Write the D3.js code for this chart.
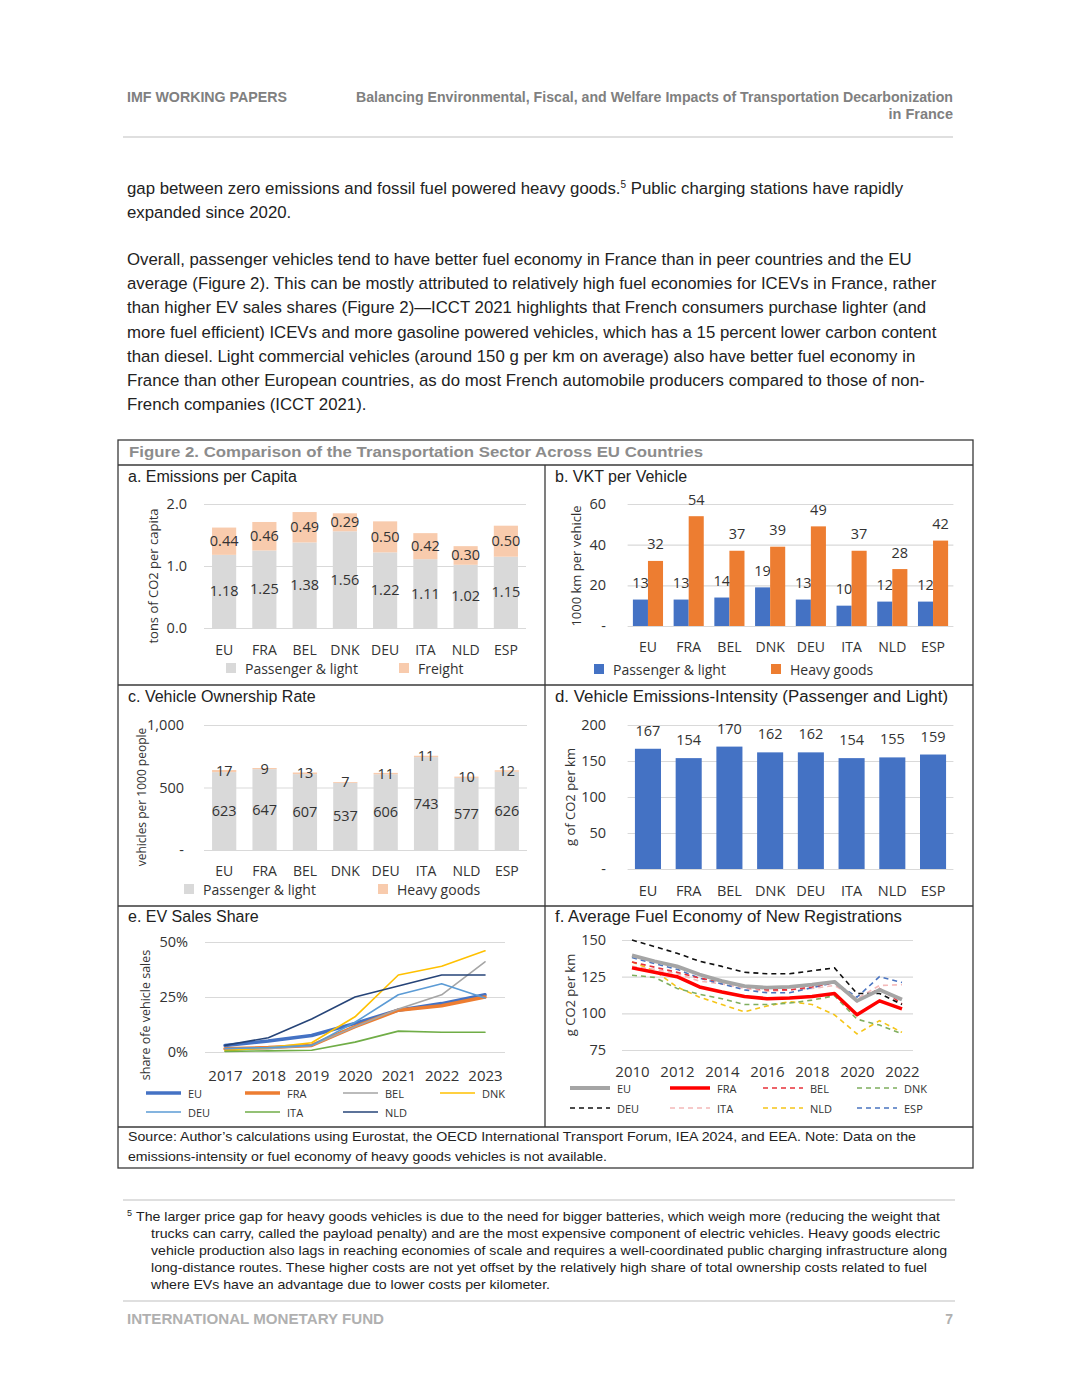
<!DOCTYPE html>
<html><head><meta charset="utf-8">
<script src="https://cdn.jsdelivr.net/npm/d3@7"></script>
<style>body{margin:0;background:#fff} svg{display:block}</style>
</head><body>
<svg id="page" width="1080" height="1397"></svg>
<script>
// ---------------- DATA ----------------
const countries = ["EU","FRA","BEL","DNK","DEU","ITA","NLD","ESP"];
// a. Emissions per capita (tons CO2)
const emisPassenger = [1.18,1.25,1.38,1.56,1.22,1.11,1.02,1.15];
const emisFreight   = [0.44,0.46,0.49,0.29,0.50,0.42,0.30,0.50];
const emisTicks = [0,1,2];
// b. VKT per vehicle (1000 km)
const vktPassenger = [13,13,14,19,13,10,12,12];
const vktHeavy     = [32,54,37,39,49,37,28,42];
const vktTicks = [0,20,40,60];
// c. Vehicle ownership (per 1000 people)
const ownPassenger = [623,647,607,537,606,743,577,626];
const ownHeavy     = [17,9,13,7,11,11,10,12];
const ownTicks = [0,500,1000];
// d. Emissions intensity (g CO2 per km)
const intensity = [167,154,170,162,162,154,155,159];
const intTicks = [0,50,100,150,200];
// e. EV sales share
const evYears = [2017,2018,2019,2020,2021,2022,2023];
const evEU  = [0.03,0.05,0.075,0.13,0.19,0.22,0.26];
const evFRA = [0.015,0.02,0.03,0.115,0.19,0.21,0.25];
const evBEL = [0.015,0.015,0.03,0.115,0.195,0.26,0.41];
const evDNK = [0.005,0.02,0.042,0.16,0.35,0.39,0.46];
const evDEU = [0.016,0.02,0.03,0.135,0.26,0.31,0.245];
const evITA = [0.003,0.005,0.008,0.045,0.095,0.09,0.09];
const evNLD = [0.03,0.065,0.15,0.25,0.30,0.35,0.35];
const evTicks = [0,0.25,0.5];
// f. Average fuel economy of new registrations (g CO2 per km)
const fuelYears = [2010,2011,2012,2013,2014,2015,2016,2017,2018,2019,2020,2021,2022];
const fuelTickYears = [2010,2012,2014,2016,2018,2020,2022];
const feEU  = [139.5,135.5,132,126.5,122,118.5,117.5,118,119.5,121.5,108.5,116,109.5];
const feFRA = [131,128,125,118,114.5,111.5,110,110.5,111.5,113.5,99,108.5,103];
const feBEL = [135,131.5,128,124,121.5,118,116,116,118,121,108,117,106.5];
const feDNK = [126,124.5,117,113,110,106,106,107,109,112,96,92,86];
const feDEU = [150,145.5,141,135.5,132,128,127,127,129,131,113.5,113.5,106];
const feITA = [132,130,127,122,120,117,115,116,117,119,110,119,119.5];
const feNLD = [135,129,118,111,106,101,105,108,106,99,86,95,87];
const feESP = [138,134,130,124,120,116,114,114,117.5,121,111,125,121];
const feTicks = [75,100,125,150];

// ---------------- STYLE ----------------
const svg = d3.select("#page");
const F_CH = "'Open Sans','Noto Sans',sans-serif";
const F_AR = "'Liberation Sans',Arial,sans-serif";
const F_NAR = "'Liberation Sans Narrow','Liberation Sans',Arial,sans-serif";
const INK = "#222";
const CH_INK = "#333";
const GRID = "#d9d9d9";
const cGray = "#d9d9d9", cPeach = "#f8cbad", cBlue = "#4472c4", cOrange = "#ed7d31";

function txt(x,y,s,opt={}) {
  const t = svg.append("text").attr("x",x).attr("y",y).text(s)
    .attr("font-family",opt.family||F_AR).attr("font-size",opt.size||16)
    .attr("fill",opt.fill||INK);
  if (opt.weight) t.attr("font-weight",opt.weight);
  if (opt.anchor) t.attr("text-anchor",opt.anchor);
  if (opt.len) t.attr("textLength",opt.len).attr("lengthAdjust","spacingAndGlyphs");
  return t;
}

// ---------------- PAGE HEADER ----------------
txt(127,102,"IMF WORKING PAPERS",{family:F_NAR,size:14.5,weight:"bold",fill:"#808080",len:160});
txt(953,102,"Balancing Environmental, Fiscal, and Welfare Impacts of Transportation Decarbonization",{family:F_NAR,size:14.5,weight:"bold",fill:"#808080",anchor:"end",len:597});
txt(953,119,"in France",{family:F_NAR,size:14.5,weight:"bold",fill:"#808080",anchor:"end"});
svg.append("line").attr("x1",123).attr("x2",953).attr("y1",137).attr("y2",137).attr("stroke","#d5d5d5").attr("stroke-width",1.5);

// ---------------- BODY TEXT ----------------
const BODY = 16.8;
const l1 = txt(127,194,"gap between zero emissions and fossil fuel powered heavy goods.",{size:BODY});
l1.append("tspan").attr("font-size",10).attr("dy",-6).text("5");
l1.append("tspan").attr("dy",6).text(" Public charging stations have rapidly");
txt(127,218,"expanded since 2020.",{size:BODY});
const para2 = [
 "Overall, passenger vehicles tend to have better fuel economy in France than in peer countries and the EU",
 "average (Figure 2). This can be mostly attributed to relatively high fuel economies for ICEVs in France, rather",
 "than higher EV sales shares (Figure 2)\u2014ICCT 2021 highlights that French consumers purchase lighter (and",
 "more fuel efficient) ICEVs and more gasoline powered vehicles, which has a 15 percent lower carbon content",
 "than diesel. Light commercial vehicles (around 150 g per km on average) also have better fuel economy in",
 "France than other European countries, as do most French automobile producers compared to those of non-",
 "French companies (ICCT 2021)."];
para2.forEach((s,i)=>txt(127,265+i*24.2,s,{size:BODY}));

// ---------------- FIGURE FRAME ----------------
const frame = svg.append("g").attr("stroke","#3a3a3a").attr("stroke-width",1.3).attr("fill","none");
frame.append("rect").attr("x",118).attr("y",440).attr("width",855).attr("height",728);
[465,685,906,1127].forEach(y=>frame.append("line").attr("x1",118).attr("x2",973).attr("y1",y).attr("y2",y));
frame.append("line").attr("x1",545).attr("x2",545).attr("y1",465).attr("y2",1127);
txt(129,457,"Figure 2. Comparison of the Transportation Sector Across EU Countries",{size:15.5,weight:"bold",fill:"#8c8c8c",len:574});

txt(128,482,"a. Emissions per Capita");
txt(555,482,"b. VKT per Vehicle");
txt(128,702,"c. Vehicle Ownership Rate");
txt(555,702,"d. Vehicle Emissions-Intensity (Passenger and Light)",{len:393});
txt(128,922,"e. EV Sales Share");
txt(555,922,"f. Average Fuel Economy of New Registrations",{len:347});

// ---------------- HELPERS ----------------
function yGrid(x0,x1,y,ticks,fmt,labelX,size=14.5){
  const g = svg.append("g").attr("transform",`translate(${x0},0)`)
    .call(d3.axisLeft(y).tickValues(ticks).tickFormat(fmt).tickSize(-(x1-x0)).tickPadding(x0-labelX));
  g.select(".domain").remove();
  g.selectAll(".tick line").attr("stroke",GRID).attr("stroke-width",1.2);
  g.selectAll(".tick text").attr("font-family",F_CH).attr("font-size",size).attr("fill",CH_INK);
  return g;
}
function xCats(scale,yTop,pad,size=14,vals=null){
  const ax = d3.axisBottom(scale).tickSize(0).tickPadding(pad);
  if (vals) ax.tickValues(vals);
  const g = svg.append("g").attr("transform",`translate(0,${yTop})`).call(ax);
  g.select(".domain").remove();
  g.selectAll(".tick text").attr("font-family",F_CH).attr("font-size",size).attr("fill",CH_INK);
  return g;
}
function yTitle(x,cy,s,size=13){
  svg.append("text").attr("transform",`translate(${x},${cy}) rotate(-90)`)
    .attr("text-anchor","middle").attr("dominant-baseline","central")
    .attr("font-family",F_CH).attr("font-size",size).attr("fill",CH_INK).text(s);
}
function sqLegend(x,y,color,s,size=14){
  svg.append("rect").attr("x",x).attr("y",y-5).attr("width",10).attr("height",10).attr("fill",color);
  svg.append("text").attr("x",x+19).attr("y",y).attr("dominant-baseline","central")
    .attr("font-family",F_CH).attr("font-size",size).attr("fill",CH_INK).text(s);
}
function lineLegend(x1,x2,y,color,w,dash,s){
  svg.append("line").attr("x1",x1).attr("x2",x2).attr("y1",y).attr("y2",y)
    .attr("stroke",color).attr("stroke-width",w).attr("stroke-dasharray",dash||null);
  svg.append("text").attr("x",x2+7).attr("y",y).attr("dominant-baseline","central")
    .attr("font-family",F_CH).attr("font-size",11).attr("fill",CH_INK).text(s);
}
function valLabel(g,x,y,s,size=14.5){
  g.append("text").attr("x",x).attr("y",y).attr("text-anchor","middle")
    .attr("font-family",F_CH).attr("font-size",size).attr("fill",CH_INK).text(s);
}
function stackedPanel(xr,yr,yDom,ticks,fmt,labelX,pVals,hVals,vfmt,catTop){
  const x = d3.scaleBand().domain(countries).range(xr).paddingInner(0.4).paddingOuter(0.2);
  const y = d3.scaleLinear().domain(yDom).range(yr);
  yGrid(xr[0],xr[1],y,ticks,fmt,labelX);
  const rows = countries.map((c,i)=>({c,p:pVals[i],h:hVals[i]}));
  const series = d3.stack().keys(["p","h"])(rows);
  const g = svg.append("g");
  series.forEach((s,k)=>{
    g.selectAll(null).data(s).join("rect")
      .attr("x",d=>x(d.data.c)).attr("width",x.bandwidth())
      .attr("y",d=>y(d[1])).attr("height",d=>y(d[0])-y(d[1]))
      .attr("fill",k===0?cGray:cPeach);
  });
  series.forEach(s=>s.forEach(d=>valLabel(g,x(d.data.c)+x.bandwidth()/2,y((d[0]+d[1])/2)+5,vfmt(d[1]-d[0]))));
  xCats(x,catTop,5);
  return {x,y};
}

// ---------------- PANEL A ----------------
stackedPanel([204,526],[628,504],[0,2],emisTicks,d3.format(".1f"),187,emisPassenger,emisFreight,d3.format(".2f"),640);
yTitle(153,576,"tons of CO2 per capita");
sqLegend(226,668,cGray,"Passenger & light");
sqLegend(399,668,cPeach,"Freight");

// ---------------- PANEL B ----------------
{
  const x = d3.scaleBand().domain(countries).range([627.6,953.4]).paddingInner(0.26).paddingOuter(0.13);
  const x1 = d3.scaleBand().domain(["p","h"]).range([0,x.bandwidth()]);
  const y = d3.scaleLinear().domain([0,60]).range([626,504]);
  yGrid(627.6,953.4,y,vktTicks,d=>d===0?"-":d,606);
  const g = svg.append("g");
  const rows = countries.map((c,i)=>({c,p:vktPassenger[i],h:vktHeavy[i]}));
  ["p","h"].forEach(k=>{
    g.selectAll(null).data(rows).join("rect")
      .attr("x",d=>x(d.c)+x1(k)).attr("width",x1.bandwidth())
      .attr("y",d=>y(d[k])).attr("height",d=>y(0)-y(d[k]))
      .attr("fill",k==="p"?cBlue:cOrange);
    rows.forEach(d=>valLabel(g,x(d.c)+x1(k)+x1.bandwidth()/2,y(d[k])-11.5,d[k]));
  });
  xCats(x,637,5);
  yTitle(576,566,"1000 km per vehicle");
  sqLegend(594,669,cBlue,"Passenger & light");
  sqLegend(771,669,cOrange,"Heavy goods");
}

// ---------------- PANEL C ----------------
stackedPanel([204,527],[850,725],[0,1000],ownTicks,d=>d===0?"-":d3.format(",")(d),184,ownPassenger,ownHeavy,d=>d3.format(".0f")(d),861);
yTitle(141,797,"vehicles per 1000 people",12);
sqLegend(184,889,cGray,"Passenger & light");
sqLegend(378,889,cPeach,"Heavy goods");

// ---------------- PANEL D ----------------
{
  const x = d3.scaleBand().domain(countries).range([627.6,953.4]).paddingInner(0.36).paddingOuter(0.18);
  const y = d3.scaleLinear().domain([0,200]).range([869,725]);
  yGrid(627.6,953.4,y,intTicks,d=>d===0?"-":d,606);
  const g = svg.append("g");
  g.selectAll(null).data(intensity).join("rect")
    .attr("x",(d,i)=>x(countries[i])).attr("width",x.bandwidth())
    .attr("y",d=>y(d)).attr("height",d=>y(0)-y(d)).attr("fill",cBlue);
  intensity.forEach((d,i)=>valLabel(g,x(countries[i])+x.bandwidth()/2,y(d)-13,d));
  xCats(x,880,6,14.5);
  yTitle(570,797,"g of CO2 per km");
}

// ---------------- PANEL E ----------------
{
  const x = d3.scalePoint().domain(evYears).range([225,485]);
  const y = d3.scaleLinear().domain([0,0.5]).range([1052,942]);
  yGrid(205,505,y,evTicks,d3.format(".0%"),188);
  xCats(x,1064,6,15);
  yTitle(145,1015,"share ofe vehicle sales",12.5);
  const series = [
    {n:"EU",v:evEU,c:cBlue,w:3.5},
    {n:"FRA",v:evFRA,c:cOrange,w:3.5},
    {n:"BEL",v:evBEL,c:"#a5a5a5",w:1.6},
    {n:"DNK",v:evDNK,c:"#ffc000",w:1.6},
    {n:"DEU",v:evDEU,c:"#5b9bd5",w:1.6},
    {n:"ITA",v:evITA,c:"#70ad47",w:1.6},
    {n:"NLD",v:evNLD,c:"#264478",w:1.6}];
  const line = d3.line().x((d,i)=>x(evYears[i])).y(d=>y(d));
  series.forEach(s=>svg.append("path").attr("d",line(s.v)).attr("fill","none")
     .attr("stroke",s.c).attr("stroke-width",s.w).attr("stroke-linejoin","round").attr("stroke-linecap","round"));
  const lx = [146,245,343,440];
  series.forEach((s,i)=>{
    const col=i<4?i:i-4, row=i<4?0:1;
    lineLegend(lx[col],lx[col]+35,1093+row*19,s.c,s.w,null,s.n);
  });
}

// ---------------- PANEL F ----------------
{
  const x = d3.scalePoint().domain(fuelYears).range([632,902]);
  const y = d3.scaleLinear().domain([75,150]).range([1050,940]);
  yGrid(622,913,y,feTicks,d=>d,606);
  xCats(x,1060,6,15,fuelTickYears);
  yTitle(570,995,"g CO2 per km");
  const series = [
    {n:"EU",v:feEU,c:"#a5a5a5",w:3.8,d:null},
    {n:"FRA",v:feFRA,c:"#ff0000",w:3.5,d:null},
    {n:"BEL",v:feBEL,c:"#e8303a",w:1.6,d:"5,4"},
    {n:"DNK",v:feDNK,c:"#7fae5e",w:1.6,d:"5,4"},
    {n:"DEU",v:feDEU,c:"#111111",w:1.6,d:"5,4"},
    {n:"ITA",v:feITA,c:"#f4b8b8",w:1.6,d:"5,4"},
    {n:"NLD",v:feNLD,c:"#f5c518",w:1.6,d:"5,4"},
    {n:"ESP",v:feESP,c:"#4a74c0",w:1.6,d:"5,4"}];
  const line = d3.line().x((d,i)=>x(fuelYears[i])).y(d=>y(d));
  const order = [6,3,5,7,2,4,0,1];
  order.forEach(k=>{const s=series[k];
    svg.append("path").attr("d",line(s.v)).attr("fill","none")
     .attr("stroke",s.c).attr("stroke-width",s.w).attr("stroke-dasharray",s.d)
     .attr("stroke-linejoin","round");});
  const lx = [570,670,763,857];
  series.forEach((s,i)=>{
    const col=i%4, row=Math.floor(i/4);
    lineLegend(lx[col],lx[col]+40,1088+row*20,s.c,s.w,s.d,s.n);
  });
}

// ---------------- SOURCE ----------------
txt(128,1141,"Source: Author\u2019s calculations using Eurostat, the OECD International Transport Forum, IEA 2024, and EEA. Note: Data on the",{family:F_NAR,size:13.5,len:788});
txt(128,1161,"emissions-intensity or fuel economy of heavy goods vehicles is not available.",{family:F_NAR,size:13.5,len:479});

// ---------------- FOOTNOTE ----------------
svg.append("line").attr("x1",123).attr("x2",955).attr("y1",1200).attr("y2",1200).attr("stroke","#d5d5d5").attr("stroke-width",1.5);
txt(127,1216,"5",{family:F_NAR,size:9});
const fn = [
 ["The larger price gap for heavy goods vehicles is due to the need for bigger batteries, which weigh more (reducing the weight that",136,804],
 ["trucks can carry, called the payload penalty) and are the most expensive component of electric vehicles. Heavy goods electric",151,789],
 ["vehicle production also lags in reaching economies of scale and requires a well-coordinated public charging infrastructure along",151,796],
 ["long-distance routes. These higher costs are not yet offset by the relatively high share of total ownership costs related to fuel",151,776],
 ["where EVs have an advantage due to lower costs per kilometer.",151,399]];
fn.forEach((f,i)=>txt(f[1],1221+i*17,f[0],{family:F_NAR,size:13.5,len:f[2]}));
svg.append("line").attr("x1",123).attr("x2",955).attr("y1",1301).attr("y2",1301).attr("stroke","#d5d5d5").attr("stroke-width",1.5);
txt(127,1324,"INTERNATIONAL MONETARY FUND",{family:F_AR,size:14,weight:"bold",fill:"#b0b0b0",len:257});
txt(953,1324,"7",{family:F_AR,size:14,weight:"bold",fill:"#b0b0b0",anchor:"end"});
</script>
</body></html>
